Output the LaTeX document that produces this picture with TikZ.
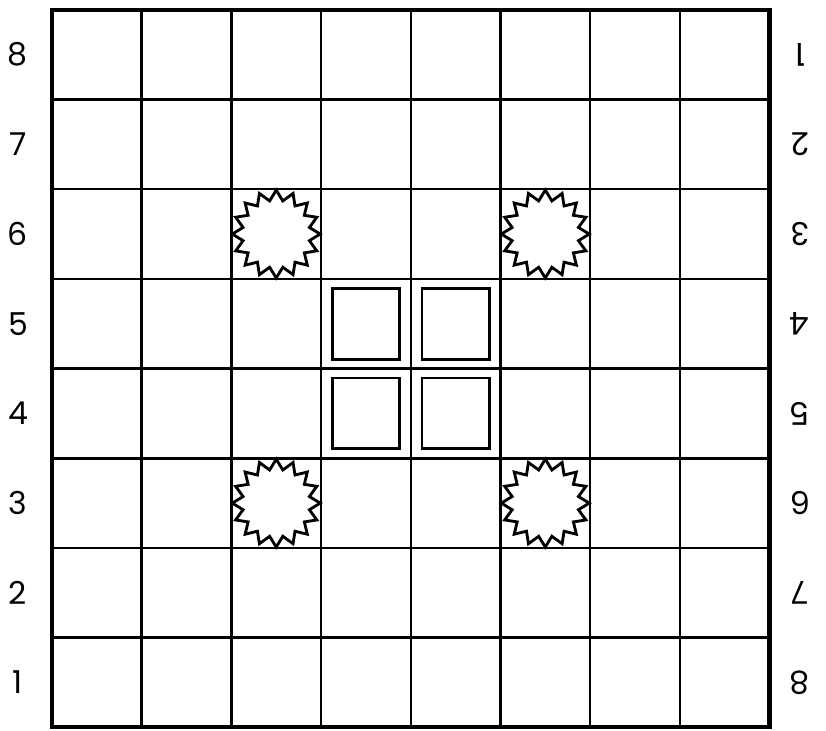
\documentclass[tikz,border=0pt]{standalone}
\usepackage{fontspec}
\setmainfont{Poppins}
\usepackage{tikz}
\usetikzlibrary{shapes.geometric}

\begin{document}
\begin{tikzpicture}[
  cellgrid/.style={line width=0.8pt},
  frame/.style={line width=1.3pt},
  block/.style={draw,line width=0.9pt,minimum width=0.75cm,minimum height=0.79cm,inner sep=0pt},
  burst/.style={draw,line width=0.9pt,star,star points=16,star point ratio=1.3,
                minimum size=0.98cm,inner sep=0pt},
  rank/.style={font=\fontsize{10}{12}\selectfont,inner sep=0pt}
]
\useasboundingbox (-0.58,-0.035) rectangle (8.63,8.11);
\draw[cellgrid] (0,0) grid (8,8);
\draw[frame] (0,0) rectangle (8,8);
% rank numbers
\foreach \n in {1,...,8} {
  \pgfmathtruncatemacro{\m}{9-\n}
  \node[rank] (l\n) at (-0.38,\n-0.5) {\n};
  \node[rank,rotate=180] (r\n) at (8.34,\n-0.5) {\m};
}
% centre blocks
\node[block] (b1) at (3.5,4.5) {};
\node[block] (b2) at (4.5,4.5) {};
\node[block] (b3) at (3.5,3.5) {};
\node[block] (b4) at (4.5,3.5) {};
% stars
\node[burst] (s1) at (2.5,5.5) {};
\node[burst] (s2) at (5.5,5.5) {};
\node[burst] (s3) at (2.5,2.5) {};
\node[burst] (s4) at (5.5,2.5) {};
\end{tikzpicture}
\end{document}
